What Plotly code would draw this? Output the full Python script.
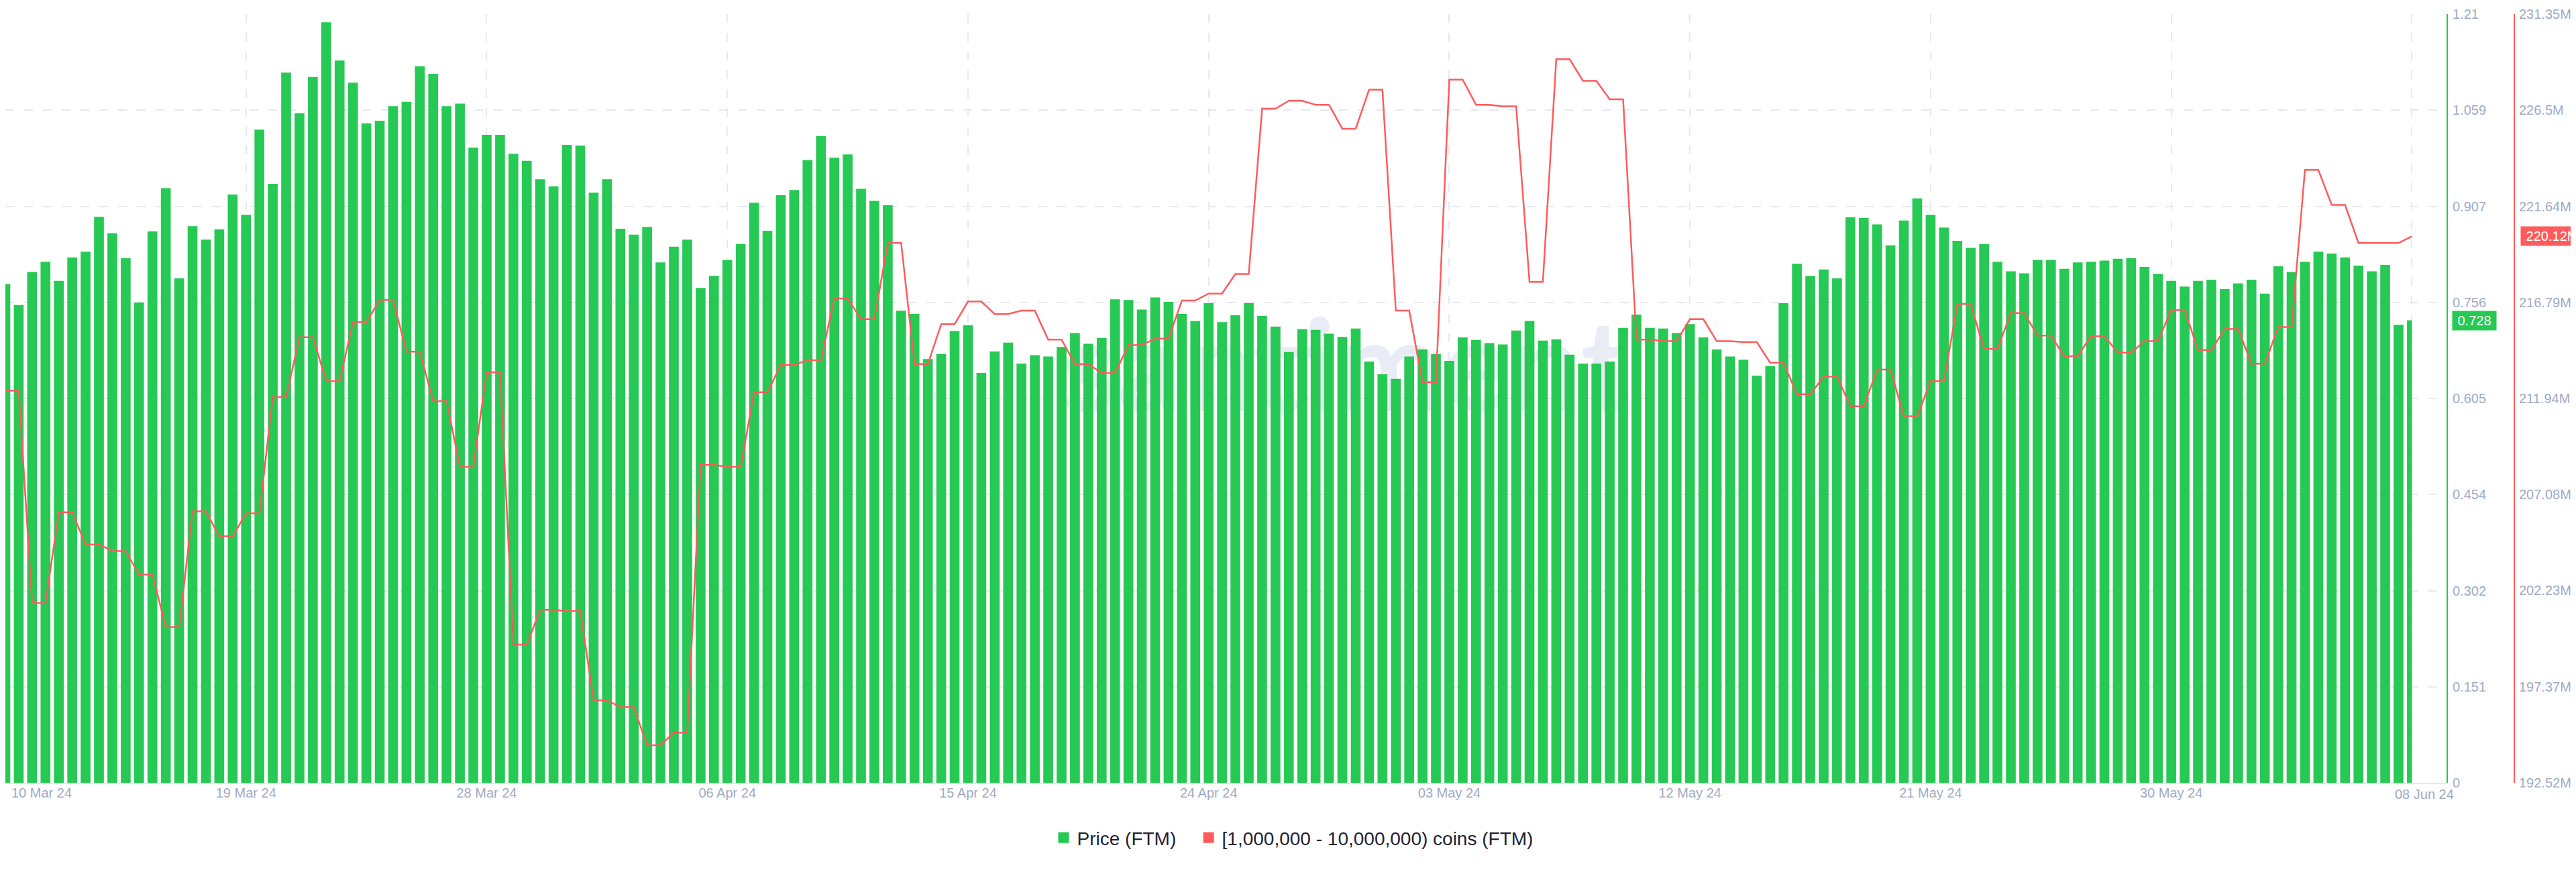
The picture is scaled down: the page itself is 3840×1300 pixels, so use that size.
import pandas as pd
import plotly.graph_objects as go

# ---------------- data ----------------
# FTM price, one bar every 12 hours from 10 Mar 2024 00:00 to 08 Jun 2024 00:00
price_ftm = [
    0.785, 0.752, 0.804, 0.820, 0.790, 0.827, 0.836, 0.891, 0.865, 0.826,
    0.756, 0.868, 0.936, 0.794, 0.876, 0.855, 0.871, 0.926, 0.894, 1.028,
    0.943, 1.118, 1.054, 1.111, 1.197, 1.137, 1.102, 1.038, 1.042, 1.065,
    1.072, 1.128, 1.116, 1.065, 1.069, 1.000, 1.020, 1.020, 0.990, 0.979,
    0.950, 0.939, 1.004, 1.003, 0.929, 0.950, 0.872, 0.863, 0.875, 0.819,
    0.844, 0.855, 0.779, 0.798, 0.823, 0.848, 0.913, 0.869, 0.925, 0.933,
    0.980, 1.018, 0.984, 0.989, 0.935, 0.916, 0.909, 0.743, 0.738, 0.667,
    0.675, 0.711, 0.720, 0.645, 0.679, 0.693, 0.660, 0.673, 0.671, 0.686,
    0.708, 0.691, 0.700, 0.761, 0.760, 0.745, 0.764, 0.757, 0.738, 0.727,
    0.755, 0.725, 0.736, 0.755, 0.735, 0.718, 0.678, 0.714, 0.713, 0.707,
    0.702, 0.715, 0.663, 0.643, 0.636, 0.671, 0.682, 0.675, 0.664, 0.701,
    0.697, 0.692, 0.690, 0.712, 0.727, 0.696, 0.698, 0.674, 0.660, 0.660,
    0.663, 0.716, 0.737, 0.716, 0.715, 0.708, 0.722, 0.701, 0.682, 0.671,
    0.666, 0.641, 0.656, 0.755, 0.817, 0.798, 0.808, 0.794, 0.890, 0.889,
    0.879, 0.846, 0.885, 0.920, 0.894, 0.874, 0.853, 0.842, 0.848, 0.820,
    0.805, 0.802, 0.823, 0.823, 0.809, 0.819, 0.820, 0.822, 0.825, 0.826,
    0.812, 0.801, 0.790, 0.781, 0.790, 0.792, 0.777, 0.786, 0.792, 0.770,
    0.813, 0.804, 0.820, 0.836, 0.833, 0.827, 0.814, 0.805, 0.815, 0.721,
    0.728,
]

# Coins held by 1M-10M FTM addresses (millions), one value per day
holders_daily_m = [
    212.33, 201.60, 206.18, 204.56, 204.23, 203.04, 200.39, 206.23, 204.97, 206.13,
    212.00, 215.03, 212.81, 215.79, 216.91, 214.30, 211.80, 208.48, 213.26, 199.50,
    201.25, 201.20, 196.69, 196.34, 194.42, 195.05, 208.58, 208.48, 212.25, 213.62,
    213.87, 216.98, 215.94, 219.79, 213.67, 215.69, 216.83, 216.20, 216.37, 214.91,
    213.67, 213.21, 214.63, 214.96, 216.88, 217.23, 218.22, 226.57, 226.97, 226.77,
    225.56, 227.53, 216.37, 212.76, 228.04, 226.77, 226.69, 217.82, 229.07, 227.98,
    227.05, 214.91, 214.83, 215.94, 214.83, 214.78, 213.74, 212.15, 213.04, 211.54,
    213.39, 211.04, 212.81, 216.70, 214.43, 216.25, 215.11, 214.07, 215.08, 214.25,
    214.83, 216.40, 214.38, 215.44, 213.69, 215.54, 223.48, 221.71, 219.79, 219.79,
    220.12,
]

x_tick_dates = ["2024-03-10", "2024-03-19", "2024-03-28", "2024-04-06", "2024-04-15",
                "2024-04-24", "2024-05-03", "2024-05-12", "2024-05-21", "2024-05-30",
                "2024-06-08"]
x_tick_labels = ["10 Mar 24", "19 Mar 24", "28 Mar 24", "06 Apr 24", "15 Apr 24",
                 "24 Apr 24", "03 May 24", "12 May 24", "21 May 24", "30 May 24",
                 "08 Jun 24"]

price_ticks = [0, 0.151, 0.302, 0.454, 0.605, 0.756, 0.907, 1.059, 1.21]
price_tick_labels = ["0", "0.151", "0.302", "0.454", "0.605", "0.756", "0.907", "1.059", "1.21"]

holder_ticks = [192.52, 197.37, 202.23, 207.08, 211.94, 216.79, 221.64, 226.5, 231.35]
holder_tick_labels = ["192.52M", "197.37M", "202.23M", "207.08M", "211.94M",
                      "216.79M", "221.64M", "226.5M", "231.35M"]

# ---------------- styling ----------------
GREEN = "#26C953"
RED = "#FF5B5B"
TICK = "#9FAAC4"
GRID = "#E6E9F2"
FONT = "Liberation Sans, Arial, sans-serif"
W, H = 3840, 1300
PLOT_RIGHT = 3639
RED_AXIS_X = 3740

start = pd.Timestamp("2024-03-10 00:00")
bar_times = pd.date_range(start, periods=len(price_ftm), freq="12h")
# daily holder value shown at both 12h samples of that day
holders_12h = [v for v in holders_daily_m for _ in range(2)][:len(bar_times)]

bar_w = 12 * 3600 * 1000 * 0.735
widths = [bar_w] * len(bar_times)
widths[-1] = bar_w / 2
offsets = [-bar_w / 2] * len(bar_times)

fig = go.Figure()
fig.add_trace(go.Bar(
    x=bar_times, y=price_ftm, marker=dict(color=GREEN, line=dict(width=0)),
    width=widths, offset=offsets, name="Price (FTM)", showlegend=False,
    yaxis="y", hoverinfo="skip",
))
fig.add_trace(go.Scatter(
    x=bar_times, y=holders_12h, mode="lines", line=dict(color=RED, width=2.5),
    name="[1,000,000 - 10,000,000) coins (FTM)", showlegend=False, yaxis="y2",
    hoverinfo="skip",
))
# legend entries (square swatches)
fig.add_trace(go.Scatter(x=[None], y=[None], mode="markers", name="Price (FTM)&nbsp;&nbsp;&nbsp;",
                         marker=dict(symbol="square", size=17, color=GREEN)))
fig.add_trace(go.Scatter(x=[None], y=[None], mode="markers", yaxis="y2",
                         name="[1,000,000 - 10,000,000) coins (FTM)",
                         marker=dict(symbol="square", size=17, color=RED)))

end = start + pd.Timedelta(days=PLOT_RIGHT / 39.86)

fig.update_layout(
    width=W, height=H,
    margin=dict(l=0, r=0, t=13, b=141),
    paper_bgcolor="white", plot_bgcolor="white",
    font=dict(family=FONT, size=20, color=TICK),
    barmode="overlay",
    showlegend=True,
    legend=dict(orientation="h", xref="container", yref="container",
                x=0.5, xanchor="center", y=59 / H, yanchor="middle",
                font=dict(size=28, color="#1F2230", family=FONT),
                bgcolor="rgba(0,0,0,0)", itemsizing="trace", tracegroupgap=0),
    xaxis=dict(
        domain=[0, PLOT_RIGHT / W], type="date",
        range=[start, end],
        tickvals=x_tick_dates,
        ticktext=[""] + x_tick_labels[1:-1] + [""],
        showgrid=True, gridcolor=GRID, gridwidth=1.5, griddash="13px,15px",
        showline=True, linecolor="#E3E7EF", linewidth=2,
        ticks="", ticklabelstandoff=-4,
        tickfont=dict(size=20, color=TICK),
        zeroline=False,
    ),
    yaxis=dict(
        range=[0, 1.21], side="right",
        tickvals=price_ticks, ticktext=price_tick_labels,
        showgrid=True, gridcolor=GRID, gridwidth=1.5, griddash="13px,15px",
        showline=True, linecolor=GREEN, linewidth=2,
        ticks="", ticklabelstandoff=3,
        tickfont=dict(size=20, color=TICK), zeroline=False,
    ),
    yaxis2=dict(
        range=[192.52, 231.35], side="right", overlaying="y",
        anchor="free", position=RED_AXIS_X / W,
        tickvals=holder_ticks, ticktext=holder_tick_labels,
        showgrid=False, showline=True, linecolor=RED, linewidth=2,
        ticks="", ticklabelstandoff=2,
        tickfont=dict(size=20, color=TICK), zeroline=False,
    ),
)

# watermark under the bars
fig.add_shape(
    type="rect", xref="paper", yref="paper", x0=0.42, x1=0.62, y0=0.50, y1=0.60,
    line=dict(width=0), fillcolor="rgba(0,0,0,0)", layer="below",
    label=dict(text="santiment", textposition="middle center",
               font=dict(size=190, color="#E9ECF4", family="Lato", weight="bold")),
)

# first and last date labels sit inside the plot edges
fig.add_annotation(x=x_tick_dates[0], xref="x", y=0, yref="paper",
                   text=x_tick_labels[0], showarrow=False, xanchor="left",
                   yanchor="middle", xshift=8, yshift=-15, borderpad=0,
                   font=dict(size=20, color=TICK, family=FONT))
fig.add_annotation(x=x_tick_dates[-1], xref="x", y=0, yref="paper",
                   text=x_tick_labels[-1], showarrow=False, xanchor="left",
                   yanchor="middle", xshift=-26, yshift=-17, borderpad=0,
                   font=dict(size=20, color=TICK, family=FONT))

# last-value badges on the axes
fig.add_annotation(x=3647 / W, xref="paper", y=price_ftm[-1], yref="y",
                   text=f"{price_ftm[-1]:.3f}", showarrow=False, xanchor="left",
                   yanchor="middle", bgcolor=GREEN, width=63, height=26,
                   font=dict(size=20, color="white", family=FONT))
fig.add_annotation(x=3749 / W, xref="paper", y=holders_daily_m[-1], yref="y2",
                   text=f"{holders_daily_m[-1]:.2f}M", showarrow=False, xanchor="left",
                   yanchor="middle", bgcolor=RED, width=91, height=26,
                   font=dict(size=20, color="white", family=FONT))

fig.write_html("out.html")
